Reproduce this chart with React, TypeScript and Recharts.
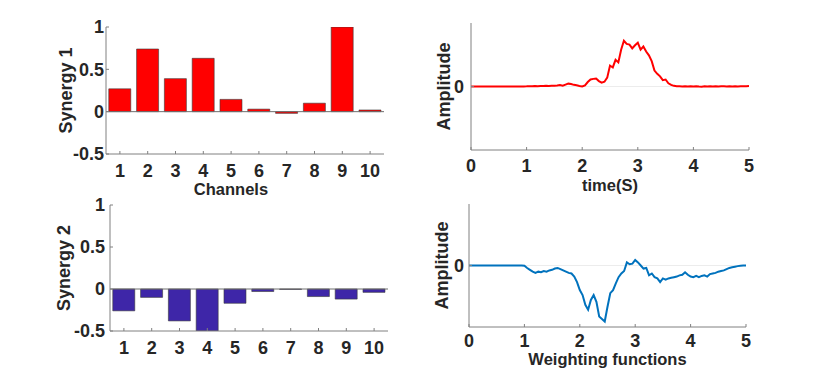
import {
  Bar,
  BarChart,
  Line,
  LineChart,
  ReferenceLine,
  XAxis,
  YAxis,
} from "recharts";

const channels = ["1", "2", "3", "4", "5", "6", "7", "8", "9", "10"];
const synergy1 = [0.27, 0.74, 0.39, 0.63, 0.145, 0.03, -0.02, 0.1, 1.0, 0.02];
const synergy2 = [-0.26, -0.1, -0.38, -0.5, -0.17, -0.03, -0.005, -0.09, -0.12, -0.04];

const time = [
  0, 0.05, 0.1, 0.15, 0.2, 0.25, 0.3, 0.35, 0.4, 0.45,
  0.5, 0.55, 0.6, 0.65, 0.7, 0.75, 0.8, 0.85, 0.9, 0.95,
  1, 1.05, 1.1, 1.15, 1.2, 1.25, 1.3, 1.35, 1.4, 1.45,
  1.5, 1.55, 1.6, 1.65, 1.7, 1.75, 1.8, 1.85, 1.9, 1.95,
  2, 2.05, 2.1, 2.15, 2.2, 2.25, 2.3, 2.35, 2.4, 2.45,
  2.5, 2.55, 2.6, 2.65, 2.7, 2.75, 2.8, 2.85, 2.9, 2.95,
  3, 3.05, 3.1, 3.15, 3.2, 3.25, 3.3, 3.35, 3.4, 3.45,
  3.5, 3.55, 3.6, 3.65, 3.7, 3.75, 3.8, 3.85, 3.9, 3.95,
  4, 4.05, 4.1, 4.15, 4.2, 4.25, 4.3, 4.35, 4.4, 4.45,
  4.5, 4.55, 4.6, 4.65, 4.7, 4.75, 4.8, 4.85, 4.9, 4.95,
  5,
];

// weighting function of synergy 1 (red)
const weight1 = [
  0, 0, 0, 0, 0, 0, 0, 0, 0, 0,
  0, 0, 0, 0, 0, 0, 0, 0, 0, 0.001,
  0.002, 0.004, 0.003, 0.007, 0.005, 0.009, 0.008, 0.012, 0.009, 0.013,
  0.011, 0.015, 0.022, 0.012, 0.03, 0.045, 0.038, 0.026, 0.02, 0.008,
  0.002, 0.018, 0.07, 0.11, 0.12, 0.125, 0.085, 0.06, 0.075, 0.14,
  0.33, 0.3, 0.42, 0.38, 0.58, 0.72, 0.67, 0.66, 0.6, 0.65,
  0.69, 0.58, 0.63, 0.55, 0.49, 0.4, 0.25, 0.2, 0.16, 0.1,
  0.11, 0.05, 0.025, 0.01, 0.004, 0.002, 0, 0.004, -0.001, 0.003,
  0.001, 0.005, 0, -0.002, 0.003, 0.001, 0.004, 0, 0.002, -0.001,
  0.003, 0.002, 0, 0.004, 0.001, 0.003, 0, 0.002, 0.004, 0.003,
  0.006,
];

// weighting function of synergy 2 (blue)
const weight2 = [
  0, 0, 0, 0, 0, 0, 0, 0, 0, 0,
  0, 0, 0, 0, 0, 0, 0, 0, 0, 0,
  -0.005, -0.04, -0.07, -0.1, -0.12, -0.1, -0.11, -0.09, -0.1, -0.08,
  -0.07, -0.05, -0.04, -0.06, -0.08, -0.1, -0.12, -0.13, -0.18, -0.27,
  -0.4, -0.48, -0.64, -0.72, -0.56, -0.48, -0.59, -0.83, -0.87, -0.91,
  -0.67, -0.45, -0.4, -0.29, -0.19, -0.13, -0.09, 0.05, 0.02, 0.03,
  0.09, 0.05, 0, -0.05, -0.04, -0.16, -0.13, -0.19, -0.21, -0.27,
  -0.21, -0.23, -0.21, -0.2, -0.19, -0.18, -0.16, -0.15, -0.11, -0.15,
  -0.18, -0.19, -0.17, -0.19, -0.17, -0.16, -0.18, -0.14, -0.13, -0.12,
  -0.1, -0.09, -0.08, -0.06, -0.04, -0.03, -0.02, -0.01, -0.005, 0,
  0,
];

const barTicks = [-0.5, 0, 0.5, 1];
const timeTicks = [0, 1, 2, 3, 4, 5];

const axisColor = "#808080";
const textColor = "#262626";
const font = "'Liberation Sans', Arial, sans-serif";
const tickStyle = { fill: textColor, fontSize: 18, fontWeight: 700, fontFamily: font };
const xLabelStyle = { fill: textColor, fontSize: 16.5, fontWeight: 700, fontFamily: font };
const yLabelStyle = {
  fill: textColor,
  fontSize: 18,
  fontWeight: 700,
  fontFamily: font,
  textAnchor: "middle" as const,
};

const bars1 = channels.map((ch, i) => ({ ch, v: synergy1[i] }));
const bars2 = channels.map((ch, i) => ({ ch, v: synergy2[i] }));
const lines1 = time.map((t, i) => ({ t, w: weight1[i] }));
const lines2 = time.map((t, i) => ({ t, w: weight2[i] }));

function SynergyBars({
  data,
  fill,
  label,
  xLabel,
  margin,
  yLabelOffset,
  yTickMargin,
}: {
  data: { ch: string; v: number }[];
  fill: string;
  label: string;
  xLabel?: string;
  margin: { top: number; right: number; bottom: number; left: number };
  yLabelOffset: number;
  yTickMargin: number;
}) {
  return (
    <BarChart
      width={415}
      height={xLabel ? 200 : 186}
      data={data}
      margin={margin}
      barCategoryGap="10%"
    >
      <XAxis
        dataKey="ch"
        stroke={axisColor}
        tickSize={-3}
        tickMargin={13}
        tick={tickStyle}
        height={xLabel ? 44 : 30}
        label={
          xLabel
            ? { value: xLabel, position: "insideBottom", offset: 3, dx: -14, style: xLabelStyle }
            : undefined
        }
      />
      <XAxis
        xAxisId="top"
        orientation="top"
        dataKey="ch"
        stroke={axisColor}
        tickSize={-3}
        tick={false}
        height={0}
      />
      <YAxis
        type="number"
        domain={[-0.5, 1]}
        ticks={barTicks}
        allowDataOverflow
        stroke={axisColor}
        tickSize={-3}
        tickMargin={yTickMargin}
        tick={tickStyle}
        width={60}
        label={{
          value: label,
          angle: -90,
          position: "insideLeft",
          offset: yLabelOffset,
          style: yLabelStyle,
        }}
      />
      <YAxis
        yAxisId="right"
        orientation="right"
        type="number"
        domain={[-0.5, 1]}
        ticks={barTicks}
        stroke={axisColor}
        tickSize={-3}
        tick={false}
        width={0}
      />
      <ReferenceLine y={0} stroke="#6e6e6e" />
      <Bar
        dataKey="v"
        fill={fill}
        stroke="#3a3a3a"
        strokeWidth={0.6}
        isAnimationActive={false}
      />
    </BarChart>
  );
}

function WeightLine({
  data,
  color,
  xLabel,
  height,
  margin,
  xLabelOffset,
  xTickMargin,
  yLabelOffset,
  yTickMargin,
}: {
  data: { t: number; w: number }[];
  color: string;
  xLabel: string;
  height: number;
  margin: { top: number; right: number; bottom: number; left: number };
  xLabelOffset: number;
  xTickMargin: number;
  yLabelOffset: number;
  yTickMargin: number;
}) {
  return (
    <LineChart width={415} height={height} data={data} margin={margin}>
      <XAxis
        dataKey="t"
        type="number"
        domain={[0, 5]}
        ticks={timeTicks}
        stroke={axisColor}
        tickSize={-3}
        tickMargin={xTickMargin}
        tick={tickStyle}
        height={44}
        label={{ value: xLabel, position: "insideBottom", offset: xLabelOffset, style: xLabelStyle }}
      />
      <XAxis
        xAxisId="top"
        orientation="top"
        dataKey="t"
        type="number"
        domain={[0, 5]}
        ticks={timeTicks}
        stroke={axisColor}
        tickSize={-3}
        tick={false}
        height={0}
      />
      <YAxis
        type="number"
        domain={[-1, 1]}
        ticks={[0]}
        stroke={axisColor}
        tickSize={-3}
        tickMargin={yTickMargin}
        tick={tickStyle}
        width={40}
        label={{
          value: "Amplitude",
          angle: -90,
          position: "insideLeft",
          offset: yLabelOffset,
          style: yLabelStyle,
        }}
      />
      <YAxis
        yAxisId="right"
        orientation="right"
        type="number"
        domain={[-1, 1]}
        ticks={[0]}
        stroke={axisColor}
        tickSize={-3}
        tick={false}
        width={0}
      />
      <ReferenceLine y={0} stroke="#ececec" />
      <Line
        dataKey="w"
        type="linear"
        stroke={color}
        strokeWidth={2}
        dot={false}
        isAnimationActive={false}
      />
    </LineChart>
  );
}

export default function App() {
  return (
    <div
      style={{
        position: "absolute",
        left: 0,
        top: 0,
        width: 830,
        height: 371,
        background: "#fff",
        fontFamily: font,
      }}
    >
      <div style={{ position: "absolute", left: 0, top: 0 }}>
        <SynergyBars
          data={bars1}
          fill="#ff0000"
          label="Synergy 1"
          xLabel="Channels"
          margin={{ top: 27, right: 31, bottom: 2, left: 46 }}
          yLabelOffset={20}
          yTickMargin={5}
        />
      </div>
      <div style={{ position: "absolute", left: 415, top: 0 }}>
        <WeightLine
          data={lines1}
          color="#ff0000"
          xLabel="time(S)"
          height={200}
          margin={{ top: 23, right: 81, bottom: 6, left: 16 }}
          xLabelOffset={3}
          xTickMargin={12}
          yLabelOffset={13}
          yTickMargin={10}
        />
      </div>
      <div style={{ position: "absolute", left: 0, top: 185 }}>
        <SynergyBars
          data={bars2}
          fill="#3e26a8"
          label="Synergy 2"
          margin={{ top: 20, right: 27, bottom: 10, left: 50 }}
          yLabelOffset={14}
          yTickMargin={8}
        />
      </div>
      <div style={{ position: "absolute", left: 415, top: 185 }}>
        <WeightLine
          data={lines2}
          color="#0072bd"
          xLabel="Weighting functions"
          height={186}
          margin={{ top: 19, right: 84, bottom: 0, left: 14 }}
          xLabelOffset={6}
          xTickMargin={10}
          yLabelOffset={13}
          yTickMargin={8}
        />
      </div>
    </div>
  );
}
